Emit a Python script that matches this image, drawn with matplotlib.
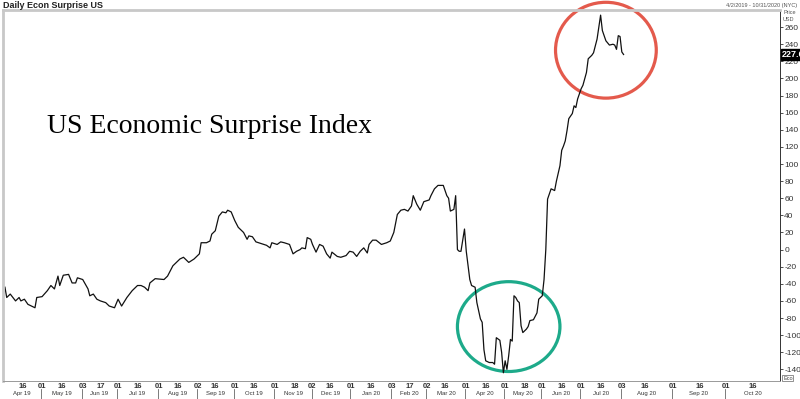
import numpy as np
import pandas as pd
import matplotlib
matplotlib.use("Agg")
import matplotlib.pyplot as plt
from matplotlib.patches import Ellipse
import matplotlib.transforms as mtransforms

plt.rcParams['font.family'] = ['Liberation Sans', 'DejaVu Sans']

# daily econ surprise index
dates = [
    '2019-04-02', '2019-04-03', '2019-04-05', '2019-04-10', '2019-04-12', '2019-04-15',
    '2019-04-17', '2019-04-19', '2019-04-23', '2019-04-25', '2019-04-26', '2019-05-01',
    '2019-05-06', '2019-05-08', '2019-05-10', '2019-05-14', '2019-05-15', '2019-05-17',
    '2019-05-22', '2019-05-24', '2019-05-28', '2019-05-29', '2019-06-03', '2019-06-06',
    '2019-06-07', '2019-06-11', '2019-06-13', '2019-06-17', '2019-06-20', '2019-06-24',
    '2019-06-27', '2019-07-01', '2019-07-03', '2019-07-08', '2019-07-11', '2019-07-16',
    '2019-07-18', '2019-07-22', '2019-07-24', '2019-07-25', '2019-07-30', '2019-08-06',
    '2019-08-08', '2019-08-13', '2019-08-15', '2019-08-19', '2019-08-21', '2019-08-26',
    '2019-08-29', '2019-09-02', '2019-09-03', '2019-09-04', '2019-09-09', '2019-09-11',
    '2019-09-12', '2019-09-16', '2019-09-18', '2019-09-20', '2019-09-24', '2019-09-25',
    '2019-09-27', '2019-10-01', '2019-10-03', '2019-10-08', '2019-10-10', '2019-10-11',
    '2019-10-15', '2019-10-17', '2019-10-22', '2019-10-25', '2019-10-29', '2019-10-30',
    '2019-11-04', '2019-11-06', '2019-11-08', '2019-11-13', '2019-11-15', '2019-11-19',
    '2019-11-21', '2019-11-22', '2019-11-26', '2019-11-27', '2019-11-29', '2019-12-02',
    '2019-12-04', '2019-12-06', '2019-12-10', '2019-12-12', '2019-12-16', '2019-12-17',
    '2019-12-20', '2019-12-24', '2019-12-27', '2019-12-31', '2020-01-02', '2020-01-06',
    '2020-01-08', '2020-01-10', '2020-01-14', '2020-01-15', '2020-01-17', '2020-01-21',
    '2020-01-24', '2020-01-29', '2020-01-31', '2020-02-04', '2020-02-06', '2020-02-10',
    '2020-02-12', '2020-02-14', '2020-02-18', '2020-02-19', '2020-02-21', '2020-02-25',
    '2020-02-27', '2020-03-03', '2020-03-04', '2020-03-06', '2020-03-10', '2020-03-13',
    '2020-03-17', '2020-03-18', '2020-03-19', '2020-03-23', '2020-03-24', '2020-03-25',
    '2020-03-26', '2020-03-27', '2020-03-31', '2020-04-01', '2020-04-03', '2020-04-06',
    '2020-04-08', '2020-04-09', '2020-04-13', '2020-04-14', '2020-04-15', '2020-04-16',
    '2020-04-20', '2020-04-22', '2020-04-23', '2020-04-24', '2020-04-28', '2020-04-29',
    '2020-04-30', '2020-05-01', '2020-05-04', '2020-05-05', '2020-05-06', '2020-05-07',
    '2020-05-08', '2020-05-11', '2020-05-12', '2020-05-13', '2020-05-14', '2020-05-15',
    '2020-05-19', '2020-05-20', '2020-05-21', '2020-05-25', '2020-05-27', '2020-05-28',
    '2020-06-01', '2020-06-02', '2020-06-03', '2020-06-04', '2020-06-08', '2020-06-10',
    '2020-06-11', '2020-06-15', '2020-06-16', '2020-06-17', '2020-06-18', '2020-06-19',
    '2020-06-22', '2020-06-24', '2020-06-25', '2020-06-26', '2020-06-29', '2020-07-01',
    '2020-07-02', '2020-07-06', '2020-07-07', '2020-07-09', '2020-07-10', '2020-07-14',
    '2020-07-16', '2020-07-17', '2020-07-21', '2020-07-23', '2020-07-27', '2020-07-28',
    '2020-07-29', '2020-07-30', '2020-07-31', '2020-08-03', '2020-08-04',
]
values = [
    -44, -56, -52, -60, -56, -60,
    -58, -64, -66, -68, -56, -55,
    -48, -42, -46, -31, -42, -30,
    -29, -39, -39, -33, -35, -46,
    -54, -52, -58, -60, -62, -66,
    -68, -58, -66, -56, -48, -42,
    -42, -44, -48, -39, -34, -35,
    -31, -19, -15, -11, -9, -15,
    -11, -7, -5, 8, 8, 10,
    18, 22, 39, 44, 43, 46,
    44, 34, 26, 20, 12, 16,
    15, 9, 7, 5, 2, 8,
    6, 9, 8, 6, -5, -2,
    0, 2, 1, 14, 12, 6,
    -3, 6, 4, -5, -10, -3,
    -8, -9, -7, -2, -3, -8,
    -2, 2, -4, 6, 11, 11,
    6, 8, 10, 20, 41, 46,
    47, 45, 51, 63, 53, 46,
    56, 58, 63, 71, 75, 75,
    63, 60, 45, 47, 63, 0,
    -2, -2, 24, -2, -35, -42,
    -44, -62, -81, -85, -117, -130,
    -132, -132, -134, -103, -106, -120,
    -144, -130, -140, -124, -105, -107,
    -54, -56, -60, -62, -89, -97,
    -93, -90, -83, -82, -74, -58,
    -54, -35, 0, 59, 71, 69,
    80, 98, 116, 121, 127, 139,
    153, 159, 168, 166, 176, 188,
    192, 207, 223, 227, 230, 246,
    274, 256, 244, 239, 240, 239,
    234, 250, 249, 231, 228,
]
last_value = 227.6

tick_days = [
    '2019-04-16', '2019-05-01', '2019-05-16', '2019-06-03', '2019-06-17', '2019-07-01',
    '2019-07-16', '2019-08-01', '2019-08-16', '2019-09-02', '2019-09-16', '2019-10-01',
    '2019-10-16', '2019-11-01', '2019-11-18', '2019-12-02', '2019-12-16', '2020-01-01',
    '2020-01-16', '2020-02-03', '2020-02-17', '2020-03-02', '2020-03-16', '2020-04-01',
    '2020-04-16', '2020-05-01', '2020-05-18', '2020-06-01', '2020-06-16', '2020-07-01',
    '2020-07-16', '2020-08-03', '2020-08-16', '2020-09-01', '2020-09-16', '2020-10-01',
    '2020-10-16',
]
y_ticks = list(range(-140, 261, 20))

start = np.datetime64('2019-04-02')
end = np.datetime64('2020-10-31')
last = np.datetime64(dates[-1])


def to_pos(d):
    # trading days up to the last print, calendar days after (bloomberg style)
    d = np.array(pd.to_datetime(d).values.astype('datetime64[D]'))
    n = np.busday_count(start, np.minimum(d, last))
    extra = np.maximum((d - last).astype(int), 0)
    return n + extra


fig = plt.figure(figsize=(8, 3.99), dpi=100)
ax = fig.add_axes([3 / 800, 1 - 381 / 399, 777 / 800, 371 / 399])

x = to_pos(dates)
ax.plot(x, values, color='#111111', lw=0.9)

ax.set_xlim(-1.1, to_pos([str(end)])[0] + 0.5)
ax.set_ylim(-153.6, 280)

# y axis on the right
ax.yaxis.tick_right()
ax.set_yticks(y_ticks)
ax.set_yticklabels([str(v) for v in y_ticks], fontsize=6, color='#333333')
ax.tick_params(axis='y', direction='out', length=2.5, width=0.6, pad=0.5, colors='#333333')

# bottom: day numbers + month row
tp = to_pos(tick_days)
ax.set_xticks(tp)
ax.set_xticklabels([pd.Timestamp(t).strftime('%d') for t in tick_days],
                   fontsize=5.5, fontweight='bold', color='#333333')
ax.tick_params(axis='x', length=0, pad=1.5)

trans = mtransforms.blended_transform_factory(ax.transData, ax.transAxes)
months = pd.date_range('2019-04-01', '2020-11-01', freq='MS')
xmin, xmax = ax.get_xlim()
for m0, m1 in zip(months[:-1], months[1:]):
    a = max(to_pos([m0])[0] - 0.5, xmin)
    b = min(to_pos([m1])[0] - 0.5, xmax)
    ax.text((a + b) / 2, -0.034, m0.strftime('%b %y'), transform=trans,
            ha='center', va='center', fontsize=4.3, color='#333333')
    if m1 < pd.Timestamp(str(end)):
        ax.plot([b, b], [-0.022, -0.048], transform=trans, color='#666666',
                lw=0.6, clip_on=False)

for side in ['left', 'top']:
    ax.spines[side].set_color('#c8c8c8')
    ax.spines[side].set_linewidth(2)
ax.spines['right'].set_color('#333333')
ax.spines['right'].set_linewidth(0.7)
ax.spines['bottom'].set_color('#999999')
ax.spines['bottom'].set_linewidth(0.7)

# circles
red = Ellipse((to_pos(['2020-07-21'])[0], 233), 57, 112, fill=False,
              edgecolor='#e45a4c', lw=2.3, clip_on=False)
green = Ellipse((to_pos(['2020-05-05'])[0], -90), 58, 105, fill=False,
                edgecolor='#1daa8a', lw=2.3, clip_on=False)
ax.add_patch(red)
ax.add_patch(green)

# annotations
fig.text(47 / 800, 1 - 133 / 399, 'US Economic Surprise Index', fontsize=20,
         family=['Liberation Serif', 'DejaVu Serif'], va='baseline', ha='left')
fig.text(3 / 800, 1 - 5 / 399, 'Daily Econ Surprise US', fontsize=6.5,
         fontweight='bold', color='#222222', va='center', ha='left')
fig.text(797 / 800, 1 - 5 / 399, '4/2/2019 - 10/31/2020 (NYC)', fontsize=4,
         color='#555555', va='center', ha='right')
fig.text(783 / 800, 1 - 16 / 399, 'Price\nUSD', fontsize=4, color='#555555',
         va='center', ha='left', linespacing=1.3)
ax.text(1.002, last_value, f'{last_value:.1f}',
        transform=mtransforms.blended_transform_factory(ax.transAxes, ax.transData),
        fontsize=6.5, fontweight='bold', color='white', va='center', ha='left',
        bbox=dict(boxstyle='square,pad=0.1', facecolor='black', edgecolor='black'),
        clip_on=False)
fig.text(783 / 800, 1 - 378 / 399, 'Eco', fontsize=4, color='#444444',
         va='center', ha='left',
         bbox=dict(boxstyle='square,pad=0.15', facecolor='white', edgecolor='#666666', lw=0.5))

fig.savefig('out.png', dpi=100)
